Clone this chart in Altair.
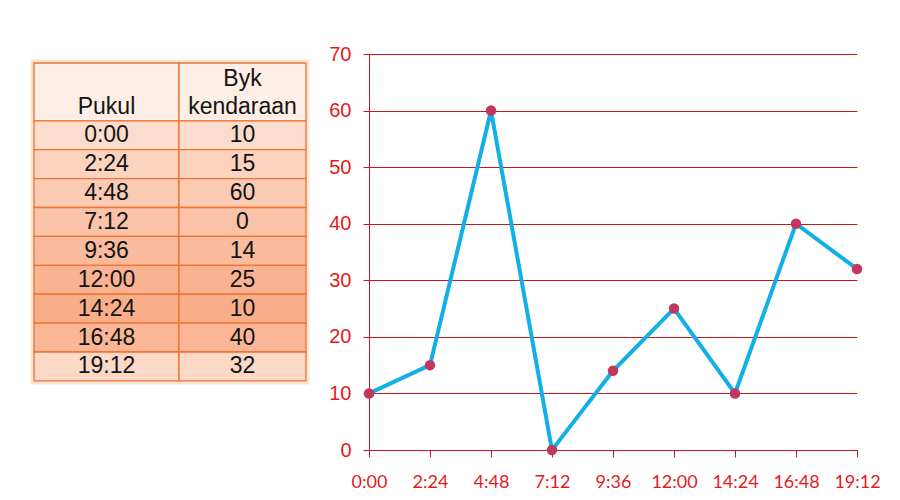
import altair as alt
import pandas as pd

# ---- data ----
pukul = ["0:00", "2:24", "4:48", "7:12", "9:36", "12:00", "14:24", "16:48", "19:12"]
kendaraan = [10, 15, 60, 0, 14, 25, 10, 40, 32]
header_col1 = ["", "Pukul"]
header_col2 = ["Byk", "kendaraan"]
y_ticks = [0, 10, 20, 30, 40, 50, 60, 70]

# ---- table styling / layout ----
row_colors = ["#fdeee6", "#fcdccd", "#fbd3bf", "#fbcbb4", "#fac3a9",
              "#fabb9f", "#f9b392", "#f9ae8a", "#fab697", "#fcd8c7"]
COL_EDGES = [0, 145, 272]
TABLE_W = 272
VIEW_H = 396
ROW_H = 28.9
TOP_OFF = 9 / ROW_H
HEADER_UNITS = 2

RED_LABEL = "#e31b1b"
RED_GRID = "#c8161d"

# build table cells
cells = []
n_rows = len(pukul) + 1
for r in range(n_rows):
    y0 = 0 if r == 0 else HEADER_UNITS + (r - 1)
    y1 = HEADER_UNITS if r == 0 else y0 + 1
    for c in range(2):
        cells.append({"x": COL_EDGES[c], "x2": COL_EDGES[c + 1], "y": y0, "y2": y1,
                      "fill": row_colors[r]})
cells_df = pd.DataFrame(cells)

texts = []
for i, t in enumerate(header_col1):
    if t:
        texts.append({"x": (COL_EDGES[0] + COL_EDGES[1]) / 2, "y": 0.55 + i * 0.97, "t": t})
for i, t in enumerate(header_col2):
    texts.append({"x": (COL_EDGES[1] + COL_EDGES[2]) / 2, "y": 0.55 + i * 0.97, "t": t})
for k, (p, v) in enumerate(zip(pukul, kendaraan)):
    yc = HEADER_UNITS + k + 0.5
    texts.append({"x": (COL_EDGES[0] + COL_EDGES[1]) / 2, "y": yc, "t": p})
    texts.append({"x": (COL_EDGES[1] + COL_EDGES[2]) / 2, "y": yc, "t": str(v)})
texts_df = pd.DataFrame(texts)

outer_df = pd.DataFrame([{"x": 0, "x2": TABLE_W, "y": 0, "y2": HEADER_UNITS + len(pukul)}])

xs = alt.Scale(domain=[0, TABLE_W], range=[0, TABLE_W], nice=False, zero=False)
ys = alt.Scale(domain=[-TOP_OFF, -TOP_OFF + VIEW_H / ROW_H], reverse=True, nice=False, zero=False)

glow = alt.Chart(outer_df).mark_rect(fill="transparent", stroke="#f6a77c", strokeWidth=7, strokeOpacity=0.3).encode(
    x=alt.X("x:Q", scale=xs, axis=None), x2="x2", y=alt.Y("y:Q", scale=ys, axis=None), y2="y2")

rects = alt.Chart(cells_df).mark_rect(stroke="#f0732f", strokeWidth=1.3).encode(
    x=alt.X("x:Q", scale=xs, axis=None), x2="x2",
    y=alt.Y("y:Q", scale=ys, axis=None), y2="y2",
    fill=alt.Fill("fill:N", scale=None))

txt = alt.Chart(texts_df).mark_text(font="Liberation Sans", fontSize=23, color="#141414",
                                     baseline="middle", align="center").encode(
    x=alt.X("x:Q", scale=xs, axis=None), y=alt.Y("y:Q", scale=ys, axis=None), text="t:N")

table = alt.layer(glow, rects, txt).properties(width=TABLE_W, height=VIEW_H)

# ---- line chart ----
df = pd.DataFrame({"pukul": pukul, "kendaraan": kendaraan})

x_enc = alt.X("pukul:O", sort=pukul, scale=alt.Scale(type="point", padding=0),
              axis=alt.Axis(title=None, labelAngle=0, labelFont="Lato", labelFontSize=18,
                            labelColor=RED_LABEL, domainColor=RED_GRID, tickColor=RED_GRID,
                            tickSize=7, labelPadding=16, grid=False))
y_enc = alt.Y("kendaraan:Q", scale=alt.Scale(domain=[0, 70], nice=False),
              axis=alt.Axis(title=None, values=y_ticks, labelFont="Liberation Sans", labelFontSize=20,
                            labelColor=RED_LABEL, domainColor=RED_GRID, tickColor=RED_GRID,
                            gridColor=RED_GRID, grid=True, tickSize=6, labelPadding=12))

line = alt.Chart(df).mark_line(color="#12b0e6", strokeWidth=4).encode(x=x_enc, y=y_enc)
pts = alt.Chart(df).mark_point(filled=True, size=110, color="#c2375f", opacity=1).encode(x=x_enc, y=y_enc)
plot = alt.layer(line, pts).properties(width=488, height=VIEW_H)

chart = alt.hconcat(table, plot, spacing=63, bounds="flush").properties(
    padding={"left": 22, "top": 36, "right": 5, "bottom": 5}
).configure(background="white").configure_view(strokeWidth=0, stroke="transparent")

chart.save("out.html", embed_options={"renderer": "svg", "actions": False})
